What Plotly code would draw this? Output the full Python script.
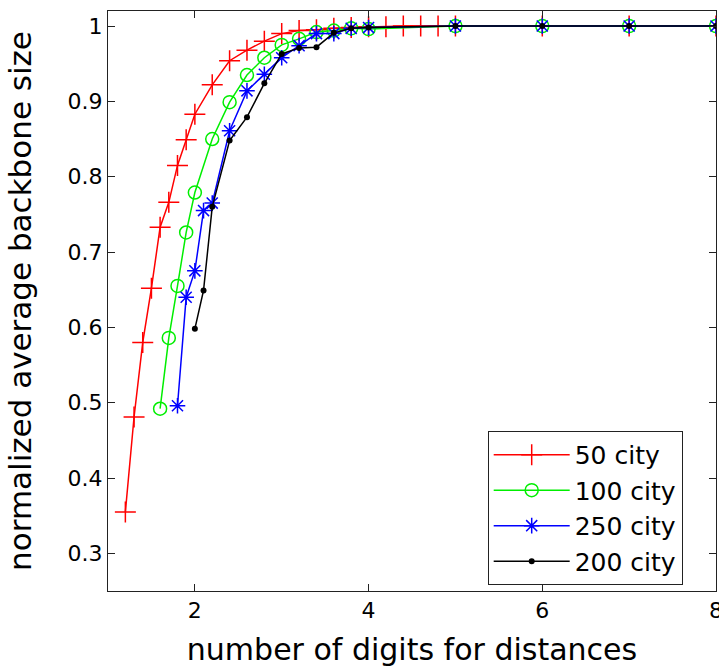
import plotly.graph_objects as go

# number of digits kept for the distances, and the normalized average backbone size
digits_50 = [1.2, 1.3, 1.4, 1.5, 1.6, 1.7, 1.8, 1.9, 2.0, 2.2, 2.4, 2.6, 2.8, 3.0, 3.2,
             3.4, 3.6, 3.8, 4.0, 4.2, 4.4, 4.6, 4.8, 5, 6, 7, 8]
size_50 = [0.355, 0.481, 0.580, 0.652, 0.733, 0.766, 0.815, 0.849, 0.883, 0.922, 0.954,
           0.968, 0.980, 0.990, 0.994, 0.995, 0.997, 0.998, 0.999, 0.999, 1.0, 1.0, 1.0,
           1.0, 1.0, 1.0, 1.0]

digits_100 = [1.6, 1.7, 1.8, 1.9, 2.0, 2.2, 2.4, 2.6, 2.8, 3.0, 3.2, 3.4, 3.6, 3.8, 4.0,
              5, 6, 7, 8]
size_100 = [0.492, 0.586, 0.655, 0.726, 0.779, 0.850, 0.899, 0.935, 0.958, 0.975, 0.983,
            0.992, 0.994, 0.997, 0.996, 1.0, 1.0, 1.0, 1.0]

digits_250 = [1.8, 1.9, 2.0, 2.1, 2.2, 2.4, 2.6, 2.8, 3.0, 3.2, 3.4, 3.6, 3.8, 4.0,
              5, 6, 7, 8]
size_250 = [0.496, 0.640, 0.675, 0.755, 0.765, 0.861, 0.914, 0.936, 0.958, 0.974, 0.990,
            0.990, 0.997, 0.998, 1.0, 1.0, 1.0, 1.0]

digits_200 = [2.0, 2.1, 2.2, 2.4, 2.6, 2.8, 3.0, 3.2, 3.4, 3.6, 3.8, 4.0, 5, 6, 7, 8]
size_200 = [0.598, 0.649, 0.760, 0.848, 0.879, 0.924, 0.963, 0.971, 0.972, 0.991, 0.997,
            0.998, 1.0, 1.0, 1.0, 1.0]

series_names = ["50 city", "100 city", "250 city", "200 city"]
x_ticks = [2, 4, 6, 8]
y_ticks = [0.3, 0.4, 0.5, 0.6, 0.7, 0.8, 0.9, 1]
y_tick_text = ["0.3", "0.4", "0.5", "0.6", "0.7", "0.8", "0.9", "1"]

FONT = "DejaVu Sans, Liberation Sans, sans-serif"

styles = [
    dict(color="#ff0000", symbol="cross-thin-open", size=15, mlw=1.5),
    dict(color="#00ee00", symbol="circle-open", size=13, mlw=1.5),
    dict(color="#0000ff", symbol="asterisk-open", size=13, mlw=1.5),
    dict(color="#000000", symbol="circle", size=6, mlw=0),
]
data = [(digits_50, size_50), (digits_100, size_100),
        (digits_250, size_250), (digits_200, size_200)]

fig = go.Figure()
for name, (xs, ys), st in zip(series_names, data, styles):
    fig.add_trace(go.Scatter(
        x=xs, y=ys, name=name, mode="lines+markers",
        line=dict(color=st["color"], width=1.5),
        marker=dict(symbol=st["symbol"], size=st["size"], color=st["color"],
                    line=dict(color=st["color"], width=st["mlw"])),
    ))

axis_common = dict(
    showline=True, linecolor="#222222", linewidth=1, mirror="ticks",
    ticks="inside", ticklen=7, tickcolor="#222222", tickwidth=1,
    showgrid=False, zeroline=False, ticklabeloverflow="allow", automargin=False,
    tickfont=dict(family=FONT, size=22, color="black"),
)

fig.update_layout(
    width=719, height=667,
    margin=dict(l=108, r=3, t=11, b=76),
    paper_bgcolor="white", plot_bgcolor="white",
    font=dict(family=FONT, color="black"),
    xaxis=dict(range=[1, 8], tickvals=x_ticks,
               title=dict(text="number of digits for distances",
                          font=dict(family=FONT, size=30), standoff=16),
               **axis_common),
    yaxis=dict(range=[0.25, 1.02], tickvals=y_ticks, ticktext=y_tick_text,
               title=dict(text="normalized average backbone size",
                          font=dict(family=FONT, size=31), standoff=26),
               **axis_common),
    legend=dict(x=0.6245, y=0.276, xanchor="left", yanchor="top",
                bgcolor="white", bordercolor="#222222", borderwidth=1,
                font=dict(family=FONT, size=25), itemwidth=76,
                tracegroupgap=0),
    showlegend=True,
)

fig.write_html("out.html")
